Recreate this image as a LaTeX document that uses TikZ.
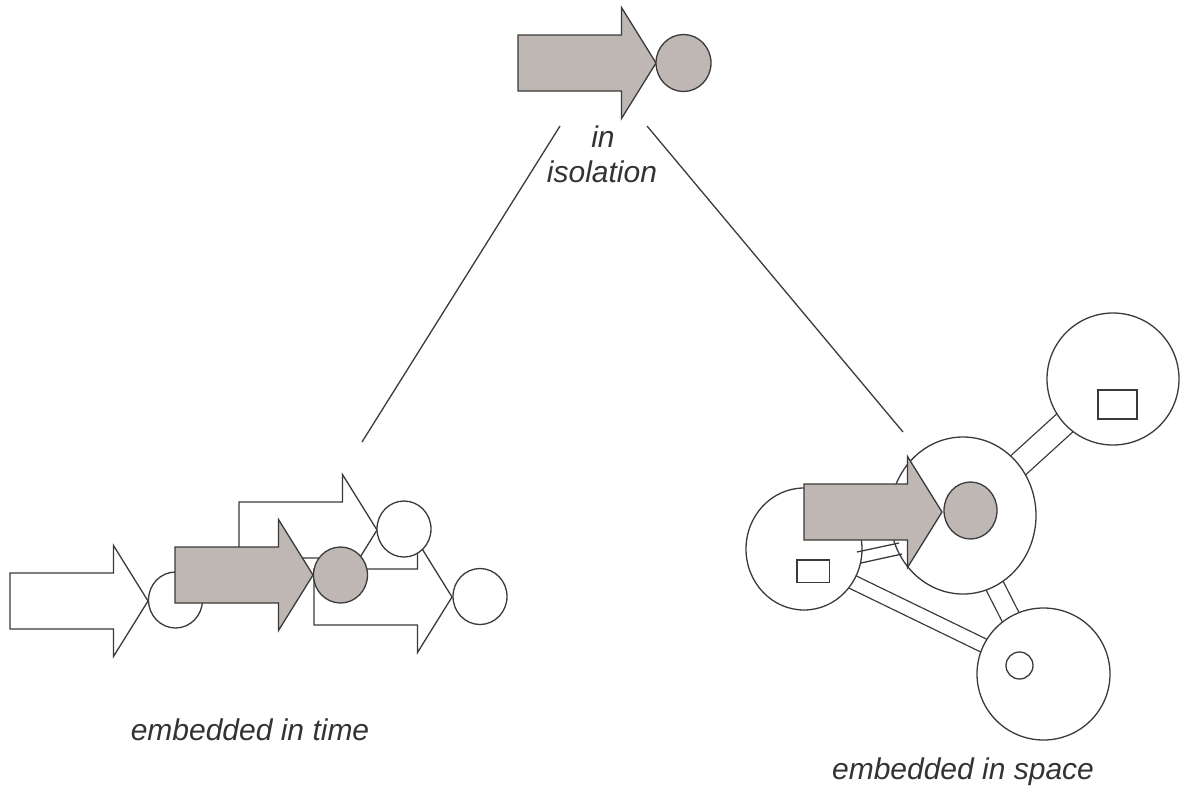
\documentclass[tikz,border=0pt]{standalone}
\usepackage{fontspec}
\setmainfont{Liberation Sans}
\usetikzlibrary{shapes.geometric,backgrounds}

\definecolor{ink}{RGB}{58,58,58}
\definecolor{shade}{RGB}{191,183,180}
\definecolor{txt}{RGB}{51,51,51}

\tikzset{
  outline/.style={draw=ink, line width=1.3pt},
  disc/.style={outline, ellipse, inner sep=0pt, minimum width=54pt, minimum height=56pt},
  hub/.style={outline, ellipse, inner sep=0pt, fill=white},
  box/.style={outline, rectangle, inner sep=0pt},
  link/.style={draw=ink, line width=1.3pt, double=white, double distance=#1},
  note/.style={text=txt, font=\fontsize{30}{35}\selectfont\itshape, inner sep=0pt, anchor=base},
  blockarrow/.pic={
    \path[pic actions] (-138,-28) -- (-34.5,-28) -- (-34.5,-55.5) -- (0,0)
      -- (-34.5,55.5) -- (-34.5,28) -- (-138,28) -- cycle;
  },
}

\begin{document}
\begin{tikzpicture}[x=1pt, y=-1pt, line width=1.3pt, line join=miter]
\useasboundingbox (0,0) rectangle (1180,790);

% ---------- in isolation ----------
\pic[draw=ink, fill=shade] at (656,63) {blockarrow};
\node[disc, fill=shade, minimum width=55pt, minimum height=57pt] (isoDot) at (683.5,63) {};
\node[note] (isoA) at (603,147) {in};
\node[note] (isoB) at (602,182) {isolation};

\coordinate (isoL) at (560,126);
\coordinate (isoR) at (647,126);
\coordinate (timeTop) at (362,442);
\coordinate (spaceTop) at (903,432);
\draw[ink, line width=1.3pt] (isoL) -- (timeTop);
\draw[ink, line width=1.3pt] (isoR) -- (spaceTop);

% ---------- embedded in time ----------
\pic[draw=ink, fill=white] at (148,601) {blockarrow};
\node[disc, fill=white] (t1) at (175.5,600) {};
\pic[draw=ink, fill=white] at (452,597) {blockarrow};
\node[disc, fill=white] (t4) at (480,596.5) {};
\pic[draw=ink, fill=white] at (377,530) {blockarrow};
\node[disc, fill=white] (t3) at (404,529) {};
\pic[draw=ink, fill=shade] at (313,575) {blockarrow};
\node[disc, fill=shade] (t2) at (340.5,575) {};
\node[note] (timeText) at (250,740) {embedded in time};

% ---------- embedded in space ----------
\node[hub, minimum width=132pt, minimum height=132pt] (sTR) at (1113,379) {};
\node[hub, minimum width=146pt, minimum height=157pt] (sC) at (963,515.5) {};
\node[hub, minimum width=133pt, minimum height=132pt] (sB) at (1043.5,674) {};
\node[hub, minimum width=116pt, minimum height=122pt] (sL) at (804,549) {};

\coordinate (lbA) at (830,571);
\coordinate (lbB) at (1000,653.5);
\begin{scope}[on background layer]
  \draw[link=22.7pt] (sC.center) -- (sTR.center);
  \draw[link=17.7pt] ([xshift=-4pt]sC.center) -- ([xshift=-4pt]sB.center);
  \draw[link=12.7pt] (lbA) -- (lbB);
\end{scope}

\node[box, minimum width=39pt, minimum height=29pt] (trBox) at (1117.5,404.5) {};
\node[box, minimum width=32.5pt, minimum height=22.5pt] (lBox) at (813.25,571.25) {};
\node[disc, minimum width=27pt, minimum height=27pt] (bRing) at (1019.5,665.5) {};

\coordinate (lcA1) at (857,552);
\coordinate (lcA2) at (899,543);
\coordinate (lcB1) at (861,563);
\coordinate (lcB2) at (902,554);
\draw[ink, line width=1.3pt] (lcA1) -- (lcA2);
\draw[ink, line width=1.3pt] (lcB1) -- (lcB2);

\pic[draw=ink, fill=shade] at (942,512) {blockarrow};
\node[disc, fill=shade, minimum width=53pt, minimum height=57pt] (sDot) at (970.5,510.5) {};
\node[note] (spaceText) at (963,779) {embedded in space};
\end{tikzpicture}
\end{document}
